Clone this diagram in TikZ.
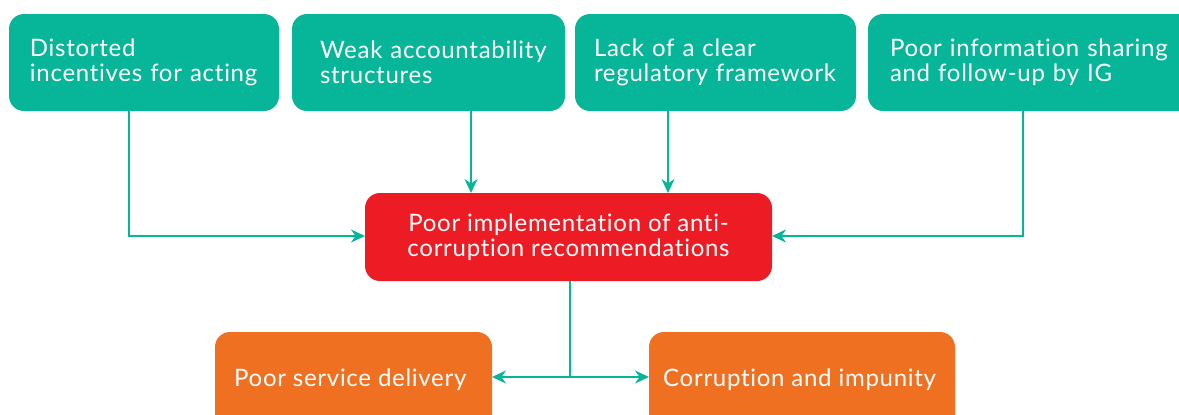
\documentclass[tikz,border=0pt]{standalone}
\usepackage{fontspec}
\setmainfont{Lato}[LetterSpace=3, Ligatures={NoCommon, NoDiscretionary}]
\usetikzlibrary{arrows.meta}
\definecolor{teal1}{HTML}{07B598}
\definecolor{red1}{HTML}{ED1C24}
\definecolor{orange1}{HTML}{F07022}
\tikzset{
  txtfont/.style={font=\fontsize{24}{25}\selectfont},
  box/.style={rounded corners=15pt, text=white, txtfont, inner ysep=0pt, outer sep=0pt},
  topbox/.style={box, fill=teal1, minimum height=97pt, align=left},
  arr/.style={draw=teal1, line width=2pt, -{Stealth[length=14pt,width=13pt]}},
  dblarr/.style={draw=teal1, line width=2pt, {Stealth[length=14pt,width=13pt]}-{Stealth[length=14pt,width=13pt]}},
}
\begin{document}
\begin{tikzpicture}[x=1pt,y=-1pt]
\useasboundingbox (0,0) rectangle (1179,415);
\clip (0,0) rectangle (1179,415);
\node[topbox, text width=228pt, inner xsep=21pt, anchor=north west] (b1) at (9,14) {\mbox{Distorted}\\\mbox{incentives for acting}};
\node[topbox, text width=217pt, inner xsep=28pt, anchor=north west] (b2) at (292,14) {\mbox{Weak accountability}\\\mbox{structures}};
\node[topbox, text width=243pt, inner xsep=19pt, anchor=north west] (b3) at (575,14) {\mbox{Lack of a clear}\\\mbox{regulatory framework}};
\node[topbox, text width=310pt, inner xsep=22pt, anchor=north west] (b4) at (868,14) {\mbox{Poor information sharing}\\\mbox{and follow-up by IG}};
\node[box, fill=red1, minimum width=407pt, minimum height=88pt, align=center] (red) at (568.5,237) {Poor implementation of anti-\\corruption recommendations};
\node[box, fill=orange1, minimum width=277pt, minimum height=106pt, anchor=north west] (o1) at (215,332) {};
\node[box, fill=orange1, minimum width=306pt, minimum height=106pt, anchor=north west] (o2) at (649,332) {};
\node[text=white, txtfont, anchor=base west, inner sep=0pt] (t1) at (234,386) {Poor service delivery};
\node[text=white, txtfont, anchor=base west, inner sep=0pt] (t2) at (663,386) {Corruption and impunity};
\coordinate (c1) at (129,236);
\coordinate (c4) at (1023,236);
\draw[arr] (b1.south -| c1) -- (c1) -- (red.west |- c1);
\draw[arr] (b4.south -| c4) -- (c4) -- (red.east |- c4);
\draw[arr] (b2.south -| 471,0) -- (red.north -| 471,0);
\draw[arr] (b3.south -| 668,0) -- (red.north -| 668,0);
\coordinate (split) at (570,377);
\draw[draw=teal1, line width=2pt] (red.south -| split) -- (split);
\draw[dblarr] (o1.east |- split) -- (o2.west |- split);
\end{tikzpicture}
\end{document}
